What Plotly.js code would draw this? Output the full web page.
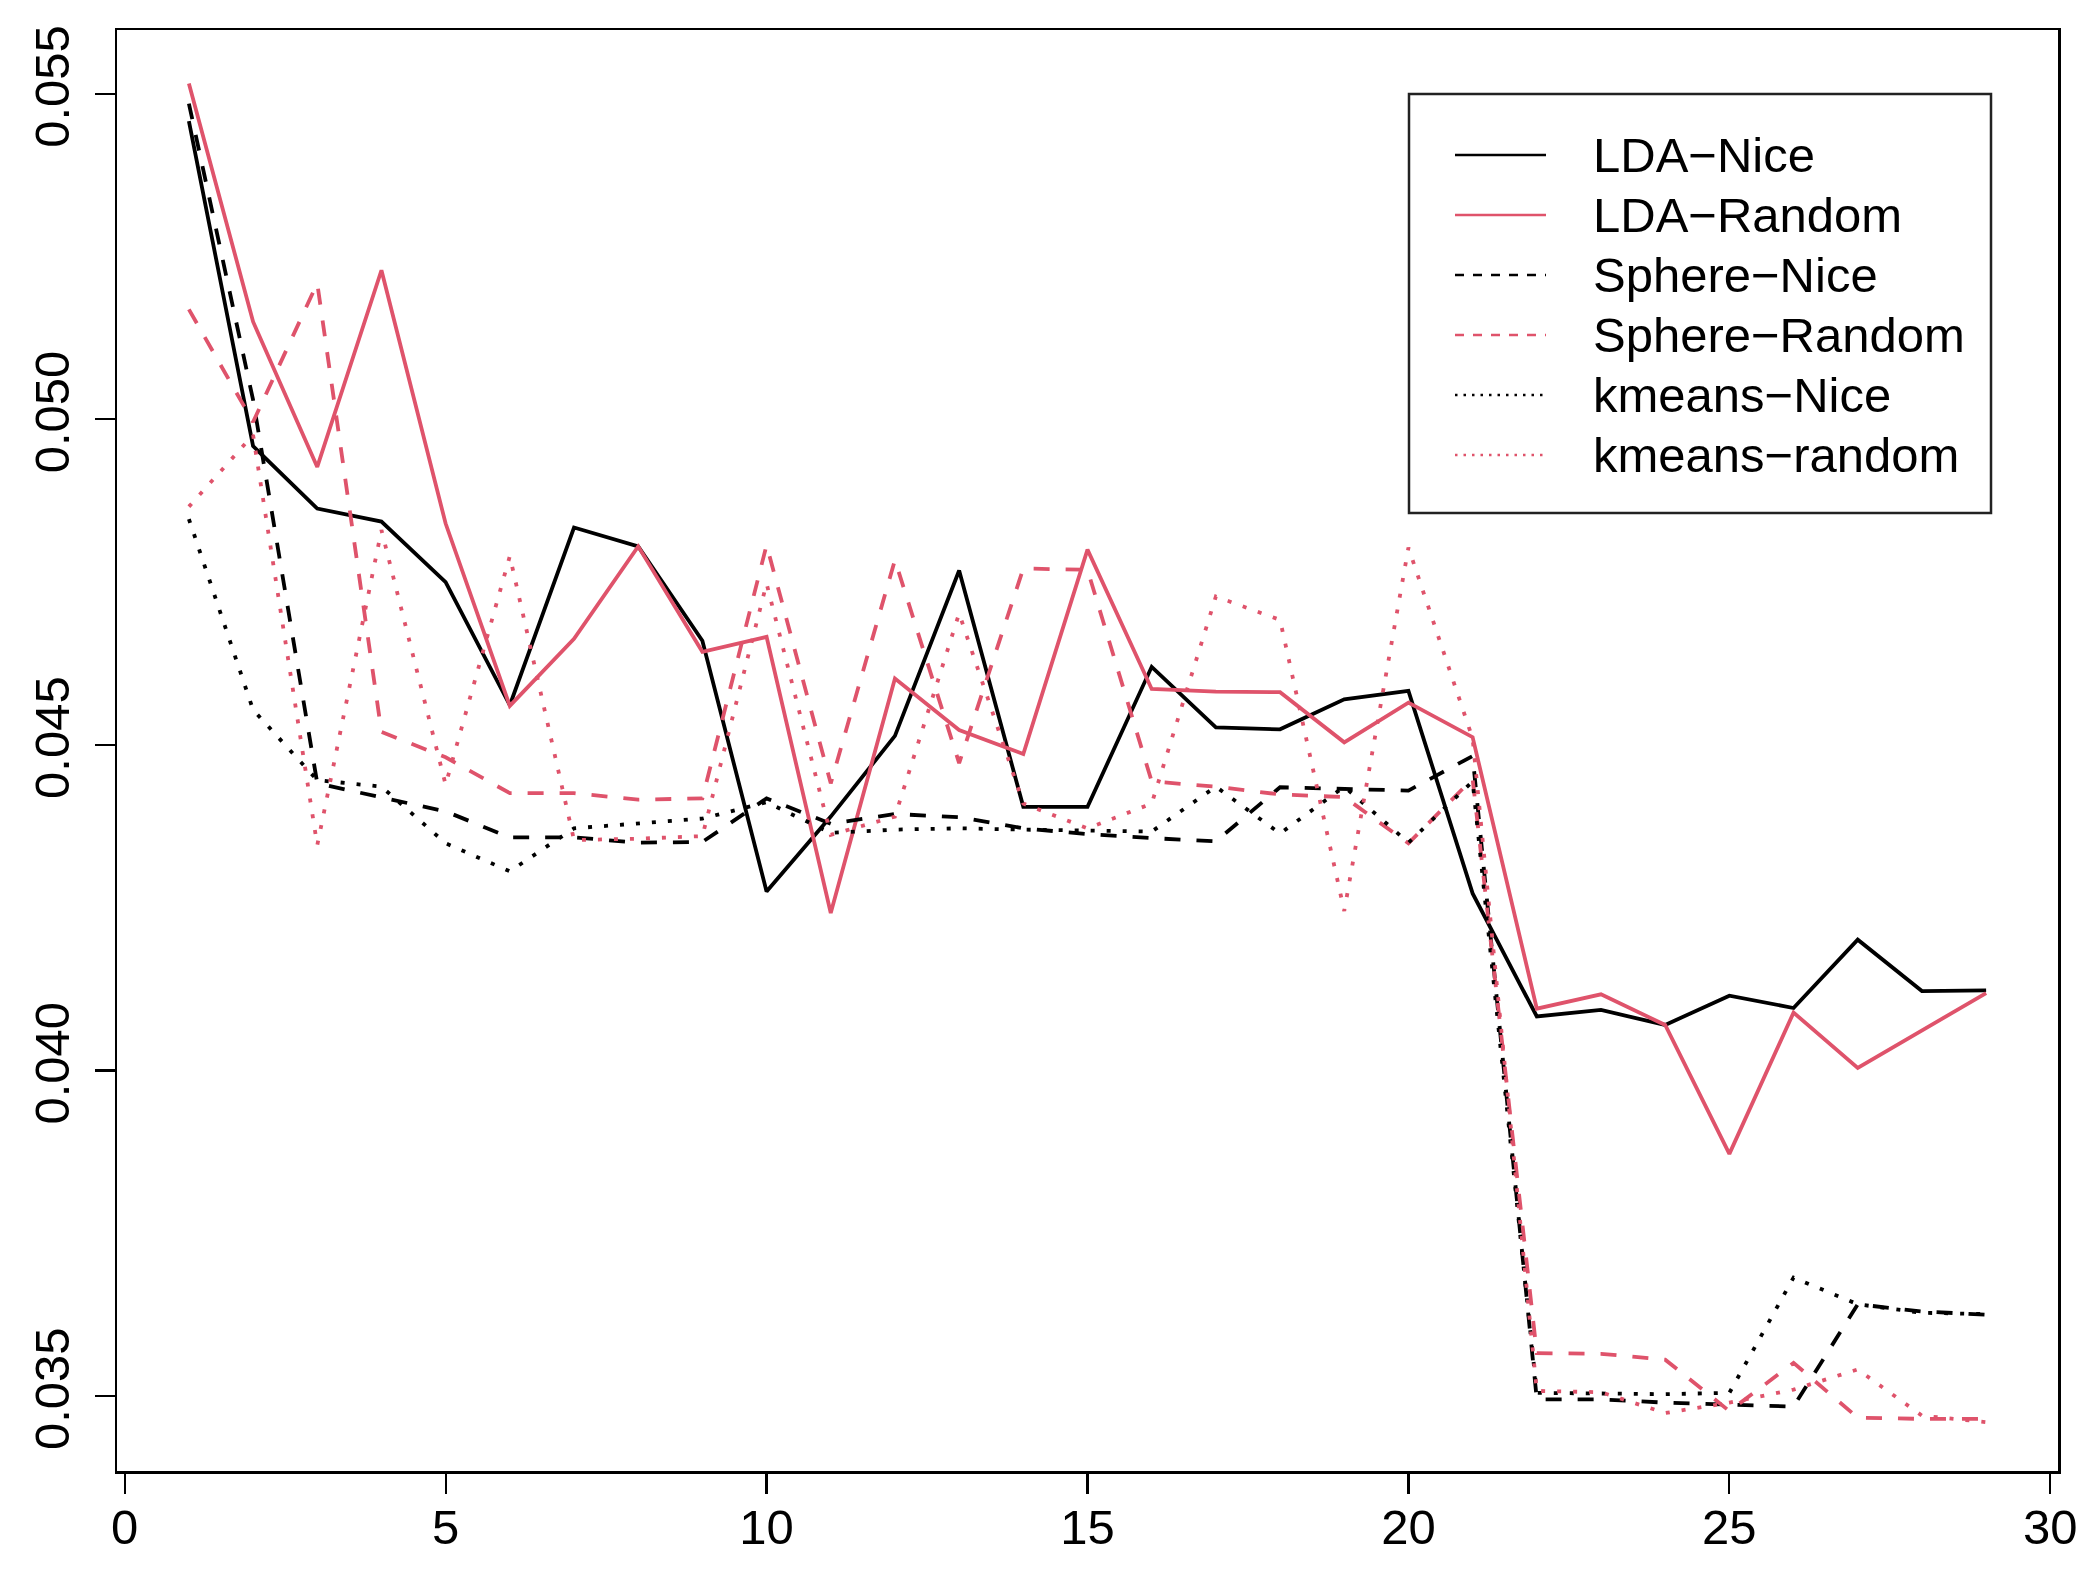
<!DOCTYPE html>
<html>
<head>
<meta charset="utf-8">
<script src="https://cdn.plot.ly/plotly-3.0.1.min.js"></script>
<style>html,body{margin:0;padding:0;background:#fff;}#chart{width:2100px;height:1578px;}</style>
</head>
<body>
<div id="chart"></div>
<script>
// ---- data ----
const xValues = [1,2,3,4,5,6,7,8,9,10,11,12,13,14,15,16,17,18,19,20,21,22,23,24,25,26,27,28,29];

const ldaNice = [0.05458,0.04959,0.04863,0.04843,0.04750,0.04561,0.04834,0.04805,0.04660,0.04275,
  0.04390,0.04514,0.04768,0.04405,0.04405,0.04620,0.04527,0.04524,0.04570,0.04583,
  0.04272,0.04083,0.04093,0.04070,0.04115,0.04096,0.04201,0.04122,0.04123];

const ldaRandom = [0.05516,0.05150,0.04927,0.05229,0.04840,0.04560,0.04663,0.04805,0.04643,0.04666,
  0.04242,0.04602,0.04523,0.04486,0.04800,0.04586,0.04582,0.04581,0.04504,0.04565,
  0.04512,0.04095,0.04117,0.04070,0.03872,0.04089,0.04004,0.04062,0.04119];

const sphereNice = [0.05485,0.05030,0.04441,0.04420,0.04398,0.04358,0.04358,0.04350,0.04351,0.04418,
  0.04379,0.04394,0.04389,0.04372,0.04363,0.04357,0.04352,0.04435,0.04432,0.04430,
  0.04483,0.03495,0.03495,0.03490,0.03487,0.03484,0.03641,0.03630,0.03625];

const sphereRandom = [0.05169,0.04996,0.05209,0.04520,0.04481,0.04426,0.04426,0.04416,0.04418,0.04807,
  0.04441,0.04784,0.04472,0.04771,0.04769,0.04444,0.04436,0.04424,0.04420,0.04349,
  0.04448,0.03566,0.03565,0.03556,0.03477,0.03551,0.03467,0.03465,0.03465];

const kmeansNice = [0.04847,0.04554,0.04446,0.04436,0.04349,0.04306,0.04372,0.04379,0.04387,0.04412,
  0.04365,0.04370,0.04372,0.04370,0.04368,0.04367,0.04436,0.04364,0.04436,0.04350,
  0.04444,0.03505,0.03504,0.03503,0.03505,0.03682,0.03641,0.03628,0.03626];

const kmeansRandom = [0.04866,0.04976,0.04346,0.04830,0.04439,0.04790,0.04354,0.04356,0.04360,0.04748,
  0.04362,0.04390,0.04702,0.04410,0.04372,0.04410,0.04728,0.04692,0.04245,0.04803,
  0.04510,0.03508,0.03506,0.03474,0.03490,0.03510,0.03541,0.03470,0.03460];

const seriesNames = ["LDA\u2212Nice","LDA\u2212Random","Sphere\u2212Nice","Sphere\u2212Random","kmeans\u2212Nice","kmeans\u2212random"];
const seriesValues = [ldaNice, ldaRandom, sphereNice, sphereRandom, kmeansNice, kmeansRandom];

const xTickVals = [0,5,10,15,20,25,30];
const yTickVals = [0.035,0.040,0.045,0.050,0.055];

// ---- styles ----
const BLACK = "#000000", RED = "#DF536B";
const seriesColors = [BLACK, RED, BLACK, RED, BLACK, RED];
const plotDash = ["solid","solid","16px,16px","16px,16px","4px,12px","4px,12px"];
const legendDash = ["solid","solid","9px,9px","9px,9px","2.5px,6px","2.5px,6px"];
const FONT = "Liberation Sans, Arial, Helvetica, sans-serif";
const W = 2100, H = 1578;
const M = {l:117, r:42, t:30, b:107};

const traces = seriesValues.map((vals, i) => ({
  type: "scatter", mode: "lines", x: xValues, y: vals, name: seriesNames[i],
  showlegend: false,
  line: {color: seriesColors[i], width: 3.8, dash: plotDash[i]}
}));

// manual R-style legend (pixel -> paper helpers)
const pw = W - M.l - M.r, ph = H - M.t - M.b;
const px2x = p => (p - M.l) / pw;
const py2y = p => (H - M.b - p) / ph;
const legBox = {x0:1409, x1:1991, y0:94, y1:513};
const legLine = {x0:1455, x1:1546};
const legTextX = 1591, legRow0 = 155, legRowGap = 60;

const shapes = [{
  type:"rect", xref:"paper", yref:"paper",
  x0:px2x(legBox.x0), x1:px2x(legBox.x1), y0:py2y(legBox.y1), y1:py2y(legBox.y0),
  line:{color:"#222", width:2.5}, fillcolor:"rgba(255,255,255,0)"
}];
const annotations = [];
seriesNames.forEach((nm, i) => {
  const yy = py2y(legRow0 + i*legRowGap);
  shapes.push({type:"line", xref:"paper", yref:"paper",
    x0:px2x(legLine.x0), x1:px2x(legLine.x1), y0:yy, y1:yy,
    line:{color:seriesColors[i], width:2.4, dash:legendDash[i]}});
  annotations.push({xref:"paper", yref:"paper", x:px2x(legTextX), y:yy,
    xanchor:"left", yanchor:"middle", text:nm, showarrow:false,
    font:{family:FONT, size:49, color:"#000"}});
});

const axisCommon = {
  showgrid:false, zeroline:false, showline:true, mirror:true,
  linecolor:"#000", linewidth:2.5, ticks:"outside", ticklen:20, tickwidth:2.2,
  tickcolor:"#000", tickfont:{family:FONT, size:49, color:"#000"}
};

const layout = {
  width:W, height:H, margin:M, paper_bgcolor:"#fff", plot_bgcolor:"#fff",
  showlegend:false,
  xaxis: Object.assign({}, axisCommon, {range:[-0.12,30.12], tickmode:"array", tickvals:xTickVals,
    ticktext:xTickVals.map(String), ticklabelstandoff:-8}),
  yaxis: Object.assign({}, axisCommon, {range:[0.03385,0.05598], tickmode:"array", tickvals:yTickVals,
    ticktext:yTickVals.map(v => v.toFixed(3)), tickangle:-90, ticklabelstandoff:6}),
  shapes: shapes, annotations: annotations
};

Plotly.newPlot("chart", traces, layout, {staticPlot:true, displayModeBar:false});
</script>
</body>
</html>
